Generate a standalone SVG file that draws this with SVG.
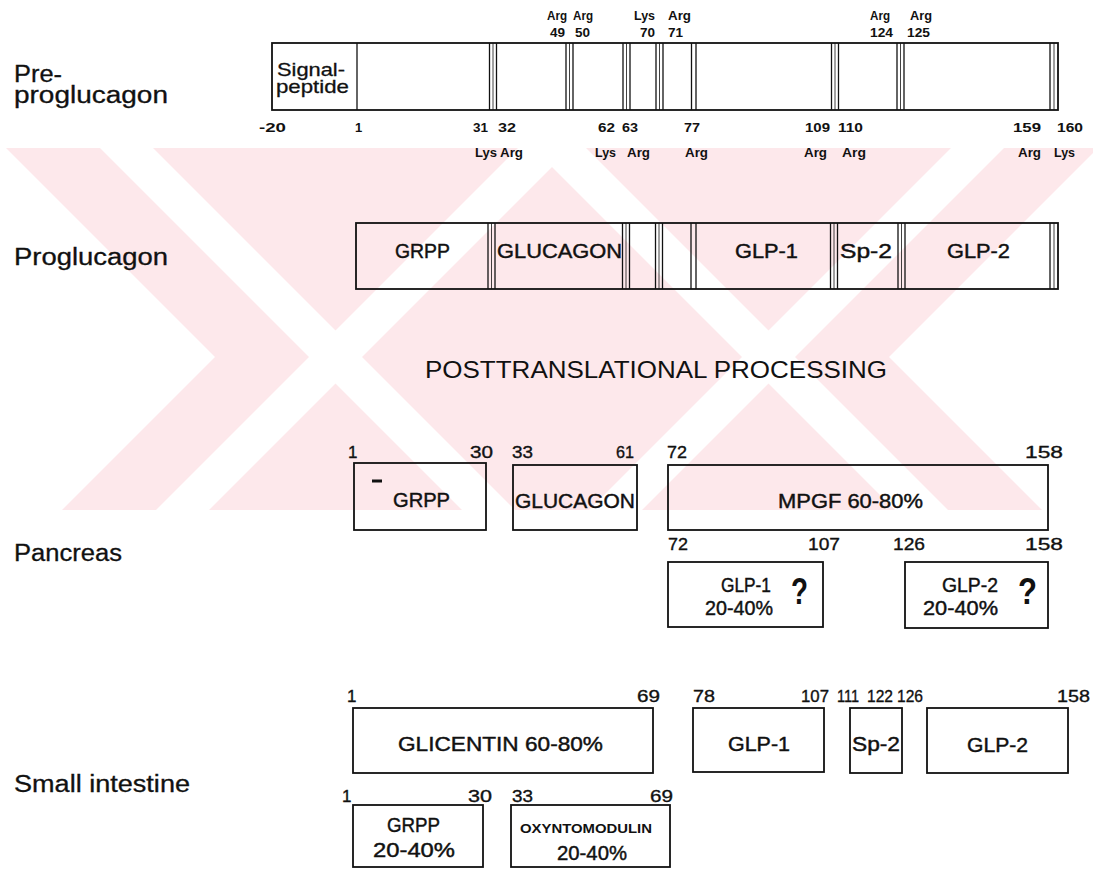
<svg xmlns="http://www.w3.org/2000/svg" width="1093" height="874" viewBox="0 0 1093 874">
<defs>
<clipPath id="wmclip"><rect x="0" y="148" width="1093" height="362"/></clipPath>
</defs>
<style>
text{font-family:"Liberation Sans",Arial,sans-serif;fill:#111}
.lbl{font-size:23px;stroke:#111;stroke-width:0.3}
.sm{font-size:13px;font-weight:bold}
.num{font-size:17px;stroke:#111;stroke-width:0.35}
.in{font-size:21px;stroke:#111;stroke-width:0.45}
.q{font-size:36px;font-weight:bold}
.box{fill:none;stroke:#111;stroke-width:1.8}
.j{stroke:#111;stroke-width:1.3}
.jm{stroke:#111;stroke-width:0.8}
.wm{fill:#fde8eb}
.ws{fill:#fff}
</style>
<rect width="1093" height="874" fill="#fff"/>
<g id="watermark" clip-path="url(#wmclip)">
<polygon class="wm" points="6,148 680,148 1042,510 368,510"/>
<polygon class="wm" points="424,148 1098,148 736,510 62,510"/>
<polygon class="ws" points="100,148 153,148 515,510 462,510"/>
<polygon class="ws" points="533,148 586,148 948,510 895,510"/>
<polygon class="ws" points="518,148 571,148 209,510 156,510"/>
<polygon class="ws" points="951,148 1004,148 642,510 589,510"/>
</g>
<g id="labels">
<text class="lbl" x="14" y="82" textLength="48" lengthAdjust="spacingAndGlyphs">Pre-</text>
<text class="lbl" x="14" y="103" textLength="154" lengthAdjust="spacingAndGlyphs">proglucagon</text>
<text class="lbl" x="14" y="265" textLength="154" lengthAdjust="spacingAndGlyphs">Proglucagon</text>
<text class="lbl" x="14" y="561" textLength="108" lengthAdjust="spacingAndGlyphs">Pancreas</text>
<text class="lbl" x="14" y="792" textLength="176" lengthAdjust="spacingAndGlyphs">Small intestine</text>
<text x="425" y="378" font-size="24" textLength="462" lengthAdjust="spacingAndGlyphs">POSTTRANSLATIONAL PROCESSING</text>
</g>
<g id="preproglucagon">
<rect class="box" x="272" y="43" width="786" height="67"/>
<line class="j" x1="357" y1="43" x2="357" y2="110"/>
<g id="pre-junctions">
<line class="j" x1="489.5" y1="43" x2="489.5" y2="110"/><line class="jm" x1="493" y1="43" x2="493" y2="110"/><line class="j" x1="496.5" y1="43" x2="496.5" y2="110"/>
<line class="j" x1="566" y1="43" x2="566" y2="110"/><line class="jm" x1="569.5" y1="43" x2="569.5" y2="110"/><line class="j" x1="573" y1="43" x2="573" y2="110"/>
<line class="j" x1="623" y1="43" x2="623" y2="110"/><line class="jm" x1="626.5" y1="43" x2="626.5" y2="110"/><line class="j" x1="630" y1="43" x2="630" y2="110"/>
<line class="j" x1="656" y1="43" x2="656" y2="110"/><line class="jm" x1="659.5" y1="43" x2="659.5" y2="110"/><line class="j" x1="663" y1="43" x2="663" y2="110"/>
<line class="j" x1="691.5" y1="43" x2="691.5" y2="110"/><line class="j" x1="696" y1="43" x2="696" y2="110"/>
<line class="j" x1="831.5" y1="43" x2="831.5" y2="110"/><line class="jm" x1="835" y1="43" x2="835" y2="110"/><line class="j" x1="838.5" y1="43" x2="838.5" y2="110"/>
<line class="j" x1="897" y1="43" x2="897" y2="110"/><line class="jm" x1="900.5" y1="43" x2="900.5" y2="110"/><line class="j" x1="904" y1="43" x2="904" y2="110"/>
<line class="j" x1="1050" y1="43" x2="1050" y2="110"/><line class="jm" x1="1054" y1="43" x2="1054" y2="110"/>
</g>
<text x="277" y="76" font-size="19" stroke="#111" stroke-width="0.3" textLength="68" lengthAdjust="spacingAndGlyphs">Signal-</text>
<text x="276" y="93" font-size="19" stroke="#111" stroke-width="0.3" textLength="73" lengthAdjust="spacingAndGlyphs">peptide</text>
<text class="sm" x="547" y="20" textLength="20" lengthAdjust="spacingAndGlyphs">Arg</text>
<text class="sm" x="573" y="20" textLength="20" lengthAdjust="spacingAndGlyphs">Arg</text>
<text class="sm" x="634" y="20" textLength="21" lengthAdjust="spacingAndGlyphs">Lys</text>
<text class="sm" x="668" y="20" textLength="23" lengthAdjust="spacingAndGlyphs">Arg</text>
<text class="sm" x="870" y="20" textLength="20" lengthAdjust="spacingAndGlyphs">Arg</text>
<text class="sm" x="910" y="20" textLength="22" lengthAdjust="spacingAndGlyphs">Arg</text>
<text class="sm" x="550" y="37" textLength="15" lengthAdjust="spacingAndGlyphs">49</text>
<text class="sm" x="575" y="37" textLength="15" lengthAdjust="spacingAndGlyphs">50</text>
<text class="sm" x="640" y="37" textLength="15" lengthAdjust="spacingAndGlyphs">70</text>
<text class="sm" x="668" y="37" textLength="15" lengthAdjust="spacingAndGlyphs">71</text>
<text class="sm" x="870" y="37" textLength="23" lengthAdjust="spacingAndGlyphs">124</text>
<text class="sm" x="907" y="37" textLength="23" lengthAdjust="spacingAndGlyphs">125</text>
<text class="sm" x="259" y="132" textLength="27" lengthAdjust="spacingAndGlyphs">-20</text>
<text class="sm" x="355" y="132">1</text>
<text class="sm" x="473" y="132" textLength="15" lengthAdjust="spacingAndGlyphs">31</text>
<text class="sm" x="498" y="132" textLength="18" lengthAdjust="spacingAndGlyphs">32</text>
<text class="sm" x="598" y="132" textLength="17" lengthAdjust="spacingAndGlyphs">62</text>
<text class="sm" x="622" y="132" textLength="16" lengthAdjust="spacingAndGlyphs">63</text>
<text class="sm" x="684" y="132" textLength="16" lengthAdjust="spacingAndGlyphs">77</text>
<text class="sm" x="805" y="132" textLength="25" lengthAdjust="spacingAndGlyphs">109</text>
<text class="sm" x="838" y="132" textLength="25" lengthAdjust="spacingAndGlyphs">110</text>
<text class="sm" x="1013" y="132" textLength="28" lengthAdjust="spacingAndGlyphs">159</text>
<text class="sm" x="1057" y="132" textLength="26" lengthAdjust="spacingAndGlyphs">160</text>
<text class="sm" x="475" y="157" textLength="22" lengthAdjust="spacingAndGlyphs">Lys</text>
<text class="sm" x="500" y="157" textLength="23" lengthAdjust="spacingAndGlyphs">Arg</text>
<text class="sm" x="595" y="157" textLength="21" lengthAdjust="spacingAndGlyphs">Lys</text>
<text class="sm" x="627" y="157" textLength="23" lengthAdjust="spacingAndGlyphs">Arg</text>
<text class="sm" x="685" y="157" textLength="23" lengthAdjust="spacingAndGlyphs">Arg</text>
<text class="sm" x="804" y="157" textLength="23" lengthAdjust="spacingAndGlyphs">Arg</text>
<text class="sm" x="842" y="157" textLength="24" lengthAdjust="spacingAndGlyphs">Arg</text>
<text class="sm" x="1018" y="157" textLength="23" lengthAdjust="spacingAndGlyphs">Arg</text>
<text class="sm" x="1054" y="157" textLength="21" lengthAdjust="spacingAndGlyphs">Lys</text>
</g>
<g id="proglucagon">
<rect class="box" x="356" y="223" width="702" height="66"/>
<line class="j" x1="488" y1="223" x2="488" y2="289"/><line class="jm" x1="491.5" y1="223" x2="491.5" y2="289"/><line class="j" x1="495" y1="223" x2="495" y2="289"/>
<line class="j" x1="622.5" y1="223" x2="622.5" y2="289"/><line class="jm" x1="626" y1="223" x2="626" y2="289"/><line class="j" x1="629.5" y1="223" x2="629.5" y2="289"/>
<line class="j" x1="655.5" y1="223" x2="655.5" y2="289"/><line class="jm" x1="659" y1="223" x2="659" y2="289"/><line class="j" x1="662.5" y1="223" x2="662.5" y2="289"/>
<line class="j" x1="691" y1="223" x2="691" y2="289"/><line class="j" x1="696" y1="223" x2="696" y2="289"/>
<line class="j" x1="830.5" y1="223" x2="830.5" y2="289"/><line class="jm" x1="834" y1="223" x2="834" y2="289"/><line class="j" x1="837.5" y1="223" x2="837.5" y2="289"/>
<line class="j" x1="898" y1="223" x2="898" y2="289"/><line class="jm" x1="901.5" y1="223" x2="901.5" y2="289"/><line class="j" x1="905" y1="223" x2="905" y2="289"/>
<line class="j" x1="1050" y1="223" x2="1050" y2="289"/><line class="jm" x1="1054" y1="223" x2="1054" y2="289"/>
<text class="in" x="395" y="258" textLength="55" lengthAdjust="spacingAndGlyphs">GRPP</text>
<text class="in" x="497" y="258" textLength="125" lengthAdjust="spacingAndGlyphs">GLUCAGON</text>
<text class="in" x="735" y="258" textLength="63" lengthAdjust="spacingAndGlyphs">GLP-1</text>
<text class="in" x="840" y="258" textLength="52" lengthAdjust="spacingAndGlyphs">Sp-2</text>
<text class="in" x="947" y="258" textLength="63" lengthAdjust="spacingAndGlyphs">GLP-2</text>
</g>
<g id="pancreas-grpp">
<rect class="box" x="354" y="463" width="132" height="67"/>
<rect x="372" y="479.5" width="10" height="3" fill="#111"/>
<text class="num" x="348" y="458">1</text>
<text class="num" x="470" y="458" textLength="23" lengthAdjust="spacingAndGlyphs">30</text>
<text class="in" x="393" y="507" textLength="57" lengthAdjust="spacingAndGlyphs">GRPP</text>
</g>
<g id="pancreas-glucagon">
<rect class="box" x="513" y="465" width="124" height="65"/>
<text class="num" x="512" y="458" textLength="21" lengthAdjust="spacingAndGlyphs">33</text>
<text class="num" x="616" y="458" textLength="18" lengthAdjust="spacingAndGlyphs">61</text>
<text class="in" x="515" y="508" textLength="120" lengthAdjust="spacingAndGlyphs">GLUCAGON</text>
</g>
<g id="pancreas-mpgf">
<rect class="box" x="668" y="465" width="380" height="65"/>
<text class="num" x="667" y="458" textLength="20" lengthAdjust="spacingAndGlyphs">72</text>
<text class="num" x="1025" y="458" textLength="38" lengthAdjust="spacingAndGlyphs">158</text>
<text class="in" x="778" y="508" textLength="145" lengthAdjust="spacingAndGlyphs">MPGF 60-80%</text>
</g>
<g id="pancreas-glp1">
<rect class="box" x="668" y="562" width="155" height="65"/>
<text class="num" x="668" y="550" textLength="20" lengthAdjust="spacingAndGlyphs">72</text>
<text class="num" x="808" y="550" textLength="32" lengthAdjust="spacingAndGlyphs">107</text>
<text class="in" x="721" y="592" textLength="50" lengthAdjust="spacingAndGlyphs">GLP-1</text>
<text class="in" x="705" y="615" textLength="68" lengthAdjust="spacingAndGlyphs">20-40%</text>
<text class="q" x="791" y="604" textLength="17" lengthAdjust="spacingAndGlyphs">?</text>
</g>
<g id="pancreas-glp2">
<rect class="box" x="905" y="562" width="143" height="66"/>
<text class="num" x="893" y="550" textLength="32" lengthAdjust="spacingAndGlyphs">126</text>
<text class="num" x="1025" y="550" textLength="38" lengthAdjust="spacingAndGlyphs">158</text>
<text class="in" x="942" y="592" textLength="56" lengthAdjust="spacingAndGlyphs">GLP-2</text>
<text class="in" x="923" y="615" textLength="75" lengthAdjust="spacingAndGlyphs">20-40%</text>
<text class="q" x="1018" y="604" textLength="19" lengthAdjust="spacingAndGlyphs">?</text>
</g>
<g id="si-glicentin">
<rect class="box" x="353" y="708" width="300" height="65"/>
<text class="num" x="347" y="702">1</text>
<text class="num" x="637" y="702" textLength="23" lengthAdjust="spacingAndGlyphs">69</text>
<text class="in" x="398" y="751" textLength="205" lengthAdjust="spacingAndGlyphs">GLICENTIN 60-80%</text>
</g>
<g id="si-glp1">
<rect class="box" x="693" y="708" width="131" height="64"/>
<text class="num" x="693" y="702" textLength="22" lengthAdjust="spacingAndGlyphs">78</text>
<text class="num" x="801" y="702" textLength="28" lengthAdjust="spacingAndGlyphs">107</text>
<text class="in" x="728" y="751" textLength="62" lengthAdjust="spacingAndGlyphs">GLP-1</text>
</g>
<g id="si-sp2">
<rect class="box" x="850" y="708" width="52" height="65"/>
<text class="num" x="837" y="702" textLength="22" lengthAdjust="spacingAndGlyphs">111</text>
<text class="num" x="867" y="702" textLength="26" lengthAdjust="spacingAndGlyphs">122</text>
<text class="in" x="852" y="751" textLength="48" lengthAdjust="spacingAndGlyphs">Sp-2</text>
</g>
<g id="si-glp2">
<rect class="box" x="927" y="708" width="141" height="65"/>
<text class="num" x="897" y="702" textLength="26" lengthAdjust="spacingAndGlyphs">126</text>
<text class="num" x="1057" y="702" textLength="33" lengthAdjust="spacingAndGlyphs">158</text>
<text class="in" x="967" y="752" textLength="61" lengthAdjust="spacingAndGlyphs">GLP-2</text>
</g>
<g id="si-grpp">
<rect class="box" x="353" y="805" width="130" height="62"/>
<text class="num" x="342" y="802">1</text>
<text class="num" x="468" y="802" textLength="24" lengthAdjust="spacingAndGlyphs">30</text>
<text class="in" x="387" y="832" textLength="53" lengthAdjust="spacingAndGlyphs">GRPP</text>
<text class="in" x="373" y="857" textLength="82" lengthAdjust="spacingAndGlyphs">20-40%</text>
</g>
<g id="si-oxyntomodulin">
<rect class="box" x="511" y="805" width="159" height="62"/>
<text class="num" x="512" y="802" textLength="21" lengthAdjust="spacingAndGlyphs">33</text>
<text class="num" x="650" y="802" textLength="23" lengthAdjust="spacingAndGlyphs">69</text>
<text x="520" y="833" font-size="13" font-weight="bold" textLength="132" lengthAdjust="spacingAndGlyphs">OXYNTOMODULIN</text>
<text class="in" x="557" y="860" textLength="70" lengthAdjust="spacingAndGlyphs">20-40%</text>
</g>
</svg>
